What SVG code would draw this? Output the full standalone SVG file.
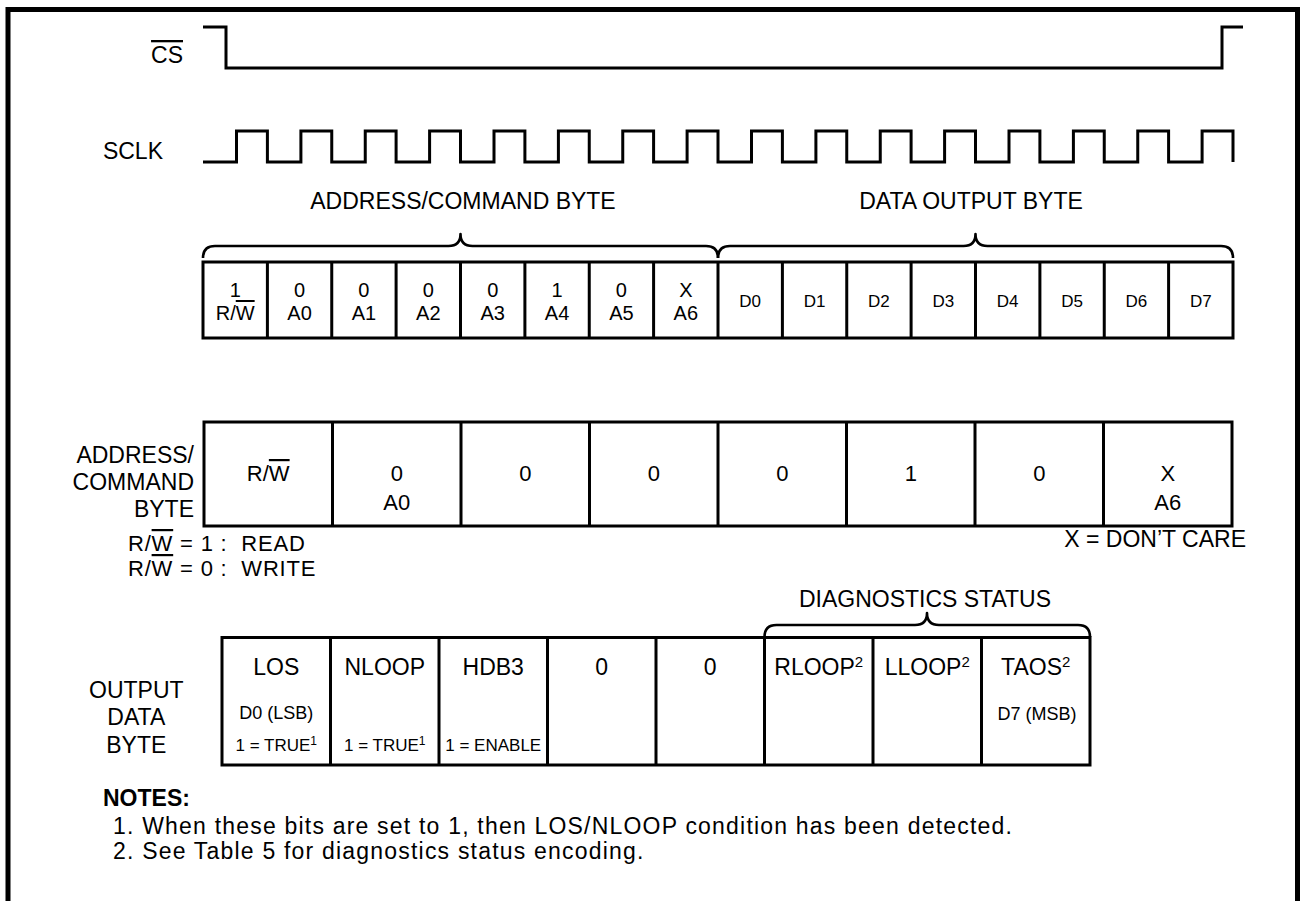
<svg xmlns="http://www.w3.org/2000/svg" width="1304" height="901" viewBox="0 0 1304 901">
<style>
.w{fill:none;stroke:#000;stroke-width:3;stroke-linejoin:miter;stroke-linecap:butt}
.b{fill:none;stroke:#000;stroke-width:2.6;stroke-linejoin:round}
.cell{fill:#fff;stroke:#000;stroke-width:3}
.ln{stroke:#000;stroke-width:3}
text{font-family:"Liberation Sans",Arial,Helvetica,sans-serif;fill:#000}
.L{font-size:23px}
.m{text-anchor:middle}
.e{text-anchor:end}
.c1{font-size:20px;text-anchor:middle}
.c2{font-size:22px;text-anchor:middle}
.s{font-size:17px;text-anchor:middle}
.ov{text-decoration:overline}
.n{font-size:23px;letter-spacing:1.2px}
.rw{font-size:22px;letter-spacing:0.8px}
</style>
<rect x="0" y="0" width="1304" height="901" fill="#fff"/>
<path d="M8,910 V9.5 H1297.5 V910" fill="none" stroke="#000" stroke-width="5"/>

<g id="cs-signal">
<text class="L e" x="183" y="63"><tspan class="ov">CS</tspan></text>
<path class="w" d="M203,27 H226 V68 H1222 V27 H1243"/>
</g>

<g id="sclk-signal">
<text class="L e" x="163" y="159">SCLK</text>
<path class="w" d="M203,162 H236.5 V131 H267.4 V162 H300.9 V131 H331.75 V162 H365.25 V131 H396.1 V162 H429.6 V131 H460.5 V162 H494 V131 H524.9 V162 H558.4 V131 H589.25 V162 H622.75 V131 H653.6 V162 H687.1 V131 H718 V162 H751.5 V131 H782.4 V162 H815.9 V131 H846.75 V162 H880.25 V131 H911.1 V162 H944.6 V131 H975.5 V162 H1009 V131 H1039.9 V162 H1073.4 V131 H1104.25 V162 H1137.75 V131 H1168.6 V162 H1202.1 V131 H1233 V162"/>
</g>

<g id="byte-labels">
<text class="L m" x="463" y="209">ADDRESS/COMMAND BYTE</text>
<text class="L m" x="971" y="209">DATA OUTPUT BYTE</text>
</g>

<g id="braces">
<path class="b" d="M203,258 Q203,246 215,246 L448.5,246 Q460.5,246 460.5,234 Q460.5,246 472.5,246 L706,246 Q718,246 718,258"/>
<path class="b" d="M718,258 Q718,246 730,246 L963.5,246 Q975.5,246 975.5,234 Q975.5,246 987.5,246 L1221,246 Q1233,246 1233,258"/>
<path class="b" d="M764.5,637 Q764.5,625 776.5,625 L915,625 Q927,625 927,613 Q927,625 939,625 L1078,625 Q1090,625 1090,637"/>
</g>

<g id="bit-table">
<rect class="cell" x="203" y="262" width="1030" height="76"/>
<path class="ln" d="M267.4,262V338M331.75,262V338M396.1,262V338M460.5,262V338M524.9,262V338M589.25,262V338M653.6,262V338M718,262V338M782.4,262V338M846.75,262V338M911.1,262V338M975.5,262V338M1039.9,262V338M1104.25,262V338M1168.6,262V338"/>
<text class="c1" x="235.2" y="297">1</text>
<text class="c1" x="235.2" y="320">R/<tspan class="ov">W</tspan></text>
<text class="c1" x="299.6" y="297">0</text><text class="c1" x="299.6" y="320">A0</text>
<text class="c1" x="363.9" y="297">0</text><text class="c1" x="363.9" y="320">A1</text>
<text class="c1" x="428.3" y="297">0</text><text class="c1" x="428.3" y="320">A2</text>
<text class="c1" x="492.7" y="297">0</text><text class="c1" x="492.7" y="320">A3</text>
<text class="c1" x="557.1" y="297">1</text><text class="c1" x="557.1" y="320">A4</text>
<text class="c1" x="621.4" y="297">0</text><text class="c1" x="621.4" y="320">A5</text>
<text class="c1" x="685.8" y="297">X</text><text class="c1" x="685.8" y="320">A6</text>
<text class="s" x="750.2" y="307">D0</text>
<text class="s" x="814.6" y="307">D1</text>
<text class="s" x="878.9" y="307">D2</text>
<text class="s" x="943.3" y="307">D3</text>
<text class="s" x="1007.7" y="307">D4</text>
<text class="s" x="1072.1" y="307">D5</text>
<text class="s" x="1136.4" y="307">D6</text>
<text class="s" x="1200.8" y="307">D7</text>
</g>

<g id="address-command-byte">
<text class="L e" x="194" y="463">ADDRESS/</text>
<text class="L e" x="194" y="490">COMMAND</text>
<text class="L e" x="194" y="517">BYTE</text>
<rect class="cell" x="204" y="422" width="1028" height="104"/>
<path class="ln" d="M332.5,422V526M461,422V526M589.5,422V526M718,422V526M846.5,422V526M975,422V526M1103.5,422V526"/>
<text class="c2" x="268.25" y="481">R/<tspan class="ov">W</tspan></text>
<text class="c2" x="396.75" y="481">0</text><text class="c2" x="396.75" y="510">A0</text>
<text class="c2" x="525.25" y="481">0</text>
<text class="c2" x="653.75" y="481">0</text>
<text class="c2" x="782.25" y="481">0</text>
<text class="c2" x="910.75" y="481">1</text>
<text class="c2" x="1039.25" y="481">0</text>
<text class="c2" x="1167.75" y="481">X</text><text class="c2" x="1167.75" y="510">A6</text>
<text class="rw" x="128" y="551" xml:space="preserve">R/<tspan class="ov">W</tspan> = 1 :  READ</text>
<text class="rw" x="128" y="576" xml:space="preserve">R/<tspan class="ov">W</tspan> = 0 :  WRITE</text>
<text class="L e" x="1246" y="547">X = DON’T CARE</text>
</g>

<g id="output-data-byte">
<text class="L m" x="925" y="607">DIAGNOSTICS STATUS</text>
<text class="L m" x="136.3" y="698">OUTPUT</text>
<text class="L m" x="136.3" y="725">DATA</text>
<text class="L m" x="136.3" y="753">BYTE</text>
<rect class="cell" x="222" y="637.5" width="868" height="127.5"/>
<path class="ln" d="M330.5,637.5V765M439,637.5V765M547.5,637.5V765M656,637.5V765M764.5,637.5V765M873,637.5V765M981.5,637.5V765"/>
<text class="L m" x="276.25" y="675">LOS</text>
<text class="L m" x="384.75" y="675">NLOOP</text>
<text class="L m" x="493.25" y="675">HDB3</text>
<text class="L m" x="601.75" y="675">0</text>
<text class="L m" x="710.25" y="675">0</text>
<text class="L m" x="818.75" y="675">RLOOP<tspan font-size="15" dy="-8">2</tspan></text>
<text class="L m" x="927.25" y="675">LLOOP<tspan font-size="15" dy="-8">2</tspan></text>
<text class="L m" x="1035.75" y="675">TAOS<tspan font-size="15" dy="-8">2</tspan></text>
<text class="m" font-size="18" x="276.25" y="719">D0 (LSB)</text>
<text class="m" font-size="18" x="1037" y="720">D7 (MSB)</text>
<text class="s" x="276.25" y="751">1 = TRUE<tspan font-size="12" dy="-6">1</tspan></text>
<text class="s" x="384.75" y="751">1 = TRUE<tspan font-size="12" dy="-6">1</tspan></text>
<text class="s" x="493.25" y="751">1 = ENABLE</text>
</g>

<g id="notes">
<text class="L" x="103" y="806" font-weight="bold">NOTES:</text>
<text class="n" x="113" y="834">1. When these bits are set to 1, then LOS/NLOOP condition has been detected.</text>
<text class="n" x="113" y="859">2. See Table 5 for diagnostics status encoding.</text>
</g>
</svg>
